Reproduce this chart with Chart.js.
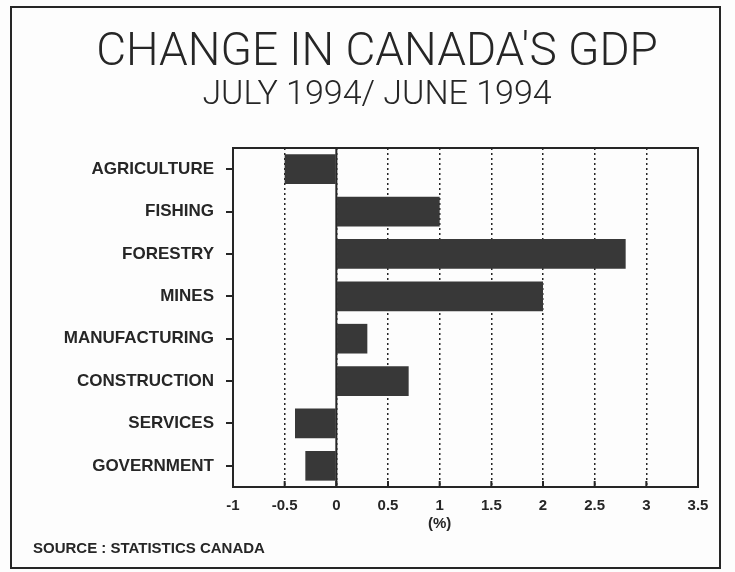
<!DOCTYPE html>
<html>
<head>
<meta charset="utf-8">
<script src="https://cdn.jsdelivr.net/npm/chart.js@4.4.1/dist/chart.umd.min.js"></script>
<style>
    html, body { margin: 0; padding: 0; background: #fdfdfd; }
    #wrap { width: 735px; height: 572px; }
</style>
</head>
<body>
<div id="wrap"><canvas id="gdpChart" width="735" height="572"></canvas></div>
<script>
// data
const sectors = ['AGRICULTURE', 'FISHING', 'FORESTRY', 'MINES', 'MANUFACTURING', 'CONSTRUCTION', 'SERVICES', 'GOVERNMENT'];
const changePct = [-0.5, 1.0, 2.8, 2.0, 0.3, 0.7, -0.4, -0.3];
const xTicks = [-1, -0.5, 0, 0.5, 1, 1.5, 2, 2.5, 3, 3.5];

const INK = '#262626';
const BOLD_FONT = '"Liberation Sans", Arial, sans-serif';

// frame around the page, solid box round the plot, zero line, source note
const framePlugin = {
    id: 'framePlugin',
    afterDraw(chart) {
        const ctx = chart.ctx;
        const area = chart.chartArea;
        const x = chart.scales.x;
        ctx.save();
        ctx.strokeStyle = INK;
        ctx.lineWidth = 2;
        ctx.strokeRect(11, 7, 709, 561);
        ctx.strokeRect(area.left, area.top, area.right - area.left, area.bottom - area.top);
        const zx = x.getPixelForValue(0);
        ctx.beginPath();
        ctx.moveTo(zx, area.top);
        ctx.lineTo(zx, area.bottom);
        ctx.stroke();
        // short solid tick marks pointing up from the bottom edge
        x.ticks.forEach(t => {
            const px = x.getPixelForValue(t.value);
            ctx.beginPath();
            ctx.moveTo(px, area.bottom);
            ctx.lineTo(px, area.bottom - 6);
            ctx.stroke();
        });
        ctx.fillStyle = INK;
        ctx.font = 'bold 15px ' + BOLD_FONT;
        ctx.textAlign = 'center';
        ctx.textBaseline = 'middle';
        ctx.fillText('(%)', x.getPixelForValue(1), 524);
        ctx.font = 'bold 15px ' + BOLD_FONT;
        ctx.textAlign = 'left';
        ctx.fillText('SOURCE : STATISTICS CANADA', 33, 549);
        ctx.restore();
    }
};

new Chart(document.getElementById('gdpChart').getContext('2d'), {
    type: 'bar',
    data: {
        labels: sectors,
        datasets: [{
            label: 'Change in GDP (%)',
            data: changePct,
            backgroundColor: '#383838',
            borderWidth: 0,
            barPercentage: 0.7,
            categoryPercentage: 1.0
        }]
    },
    options: {
        indexAxis: 'y',
        responsive: false,
        animation: false,
        layout: { padding: { left: 56, right: 37, top: 0, bottom: 33 } },
        scales: {
            x: {
                min: -1,
                max: 3.5,
                afterBuildTicks: scale => { scale.ticks = xTicks.map(v => ({ value: v })); },
                afterFit: scale => { scale.height = 52; },
                grid: {
                    color: INK,
                    lineWidth: 1.5,
                    drawTicks: false
                },
                border: { display: false, dash: [2, 3] },
                ticks: {
                    color: INK,
                    padding: 10,
                    maxRotation: 0,
                    callback: value => String(value),
                    font: { family: BOLD_FONT, size: 15, weight: 'bold' }
                }
            },
            y: {
                afterFit: scale => { scale.width = 177; },
                grid: {
                    offset: false,
                    drawOnChartArea: false,
                    drawTicks: true,
                    tickLength: 7,
                    color: INK,
                    lineWidth: 2
                },
                border: { display: false },
                ticks: {
                    color: INK,
                    padding: 12,
                    font: { family: BOLD_FONT, size: 17, weight: 'bold' }
                }
            }
        },
        plugins: {
            legend: { display: false },
            tooltip: { enabled: false },
            title: {
                display: true,
                text: "CHANGE IN CANADA'S GDP",
                color: INK,
                font: { family: 'Roboto, "DejaVu Sans", sans-serif', size: 46, weight: 300, lineHeight: 1.0 },
                padding: { top: 30, bottom: 2 }
            },
            subtitle: {
                display: true,
                text: 'JULY 1994/ JUNE 1994',
                color: INK,
                font: { family: 'Roboto, "DejaVu Sans", sans-serif', size: 34, weight: 300, lineHeight: 1.0 },
                padding: { top: 0, bottom: 36 }
            }
        }
    },
    plugins: [framePlugin]
});
</script>
</body>
</html>
